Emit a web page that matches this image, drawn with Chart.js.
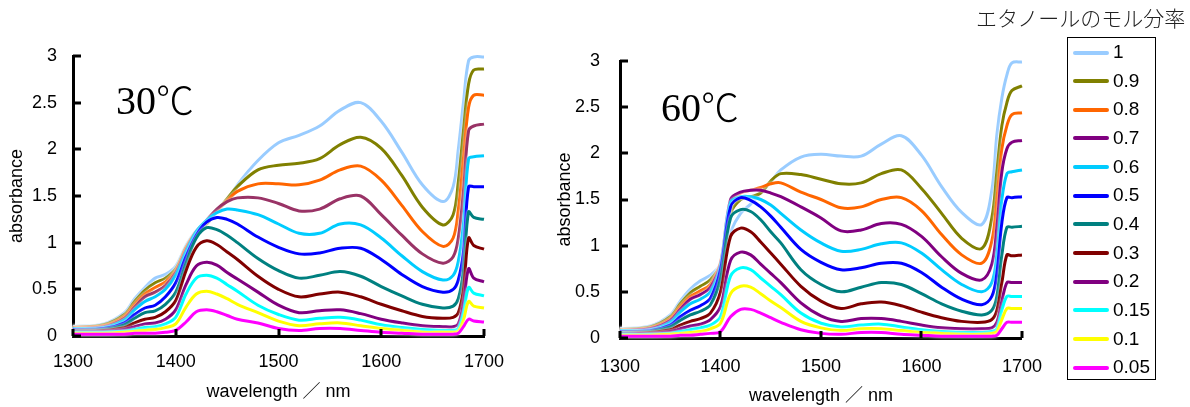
<!DOCTYPE html>
<html lang="ja">
<head>
<meta charset="utf-8">
<title>absorbance 30℃ / 60℃</title>
<script src="https://cdn.jsdelivr.net/npm/chart.js"></script>
<style>
    body { margin: 0; background: #fff; width: 1190px; height: 407px; overflow: hidden; position: relative; font-family: "Liberation Sans", Arial, sans-serif; }
    canvas { position: absolute; top: 0; }
    #c30 { left: 0; }
    #c60 { left: 540px; }
    .temp { position: absolute; font-family: "Liberation Serif", "Noto Sans CJK JP", serif; font-size: 40px; line-height: 40px; color: #000; white-space: nowrap; }
    .temp span { font-family: "Noto Sans CJK JP", sans-serif; font-weight: 300; font-size: 38px; }
    #legendTitle { position: absolute; left: 976px; top: 4px; font-family: "Noto Sans CJK JP", sans-serif; font-weight: 300; font-size: 21px; line-height: 26px; color: #222; white-space: nowrap; }
    #legend { position: absolute; left: 1067px; top: 37px; width: 89px; height: 343px; border: 1px solid #000; box-sizing: border-box; z-index: 2; background: #fff; }
    .row { position: relative; height: 28.66px; }
    .row .ln { position: absolute; left: 5px; top: 12.5px; width: 36px; height: 4px; border-radius: 2px; }
    .row .tx { position: absolute; left: 45px; top: 0; line-height: 28.66px; font-size: 19px; color: #000; }
</style>
</head>
<body>
<canvas id="c30" width="520" height="407"></canvas>
<canvas id="c60" width="520" height="407"></canvas>
<div class="temp" style="left:116px; top:78px;">30<span>℃</span></div>
<div class="temp" style="left:661px; top:85px;">60<span>℃</span></div>
<div id="legendTitle">エタノールのモル分率</div>
<div id="legend"></div>

<script>
    // wavelength grid (nm)
    const wavelengths = [1300, 1330, 1350, 1360, 1370, 1380, 1390, 1400, 1410, 1420, 1430, 1440, 1450, 1460,
        1480, 1500, 1520, 1540, 1560, 1580, 1600, 1620, 1640, 1660, 1670, 1675, 1680, 1685, 1690, 1700];

    // ethanol mole fraction labels
    const fractions = ['1', '0.9', '0.8', '0.7', '0.6', '0.5', '0.4', '0.3', '0.2', '0.15', '0.1', '0.05'];

    const colors30 = ['#99CCFF', '#808000', '#FF6600', '#993366', '#00CCFF', '#0000FF', '#008080', '#800000', '#800080', '#00FFFF', '#FFFF00', '#FF00FF'];
    const colors60 = ['#99CCFF', '#808000', '#FF6600', '#800080', '#00CCFF', '#0000FF', '#008080', '#800000', '#800080', '#00FFFF', '#FFFF00', '#FF00FF'];

    const yTicks = [0, 0.5, 1, 1.5, 2, 2.5, 3];
    const xTicks = [1300, 1400, 1500, 1600, 1700];

    // 30℃
    const a30_100 = [0.10,0.13,0.25,0.40,0.52,0.62,0.66,0.75,0.97,1.13,1.20,1.33,1.45,1.62, 1.88,2.07,2.15,2.25,2.42,2.50,2.30,1.97,1.62,1.44, 1.60,2.00,2.50,2.95,2.99,2.99];
    const a30_090 = [0.09,0.12,0.23,0.37,0.49,0.57,0.62,0.72,0.95,1.12,1.20,1.34,1.47,1.60, 1.78,1.83,1.85,1.90,2.05,2.13,2.01,1.72,1.38,1.19, 1.30,1.65,2.20,2.70,2.85,2.86];
    const a30_080 = [0.09,0.11,0.21,0.34,0.45,0.52,0.58,0.70,0.94,1.12,1.22,1.34,1.45,1.55, 1.63,1.63,1.62,1.67,1.78,1.82,1.67,1.40,1.12,0.96, 1.05,1.35,1.90,2.45,2.58,2.58];
    const a30_070 = [0.08,0.10,0.19,0.31,0.42,0.47,0.54,0.68,0.92,1.12,1.24,1.36,1.44,1.48, 1.48,1.42,1.34,1.36,1.47,1.50,1.30,1.08,0.88,0.78, 0.85,1.05,1.55,2.20,2.25,2.27];
    const a30_060 = [0.08,0.09,0.17,0.28,0.37,0.42,0.50,0.65,0.90,1.12,1.24,1.32,1.36,1.35, 1.30,1.20,1.10,1.10,1.20,1.19,1.05,0.86,0.69,0.60, 0.65,0.80,1.20,1.90,1.92,1.93];
    const a30_050 = [0.07,0.08,0.14,0.23,0.30,0.33,0.42,0.57,0.85,1.08,1.22,1.27,1.25,1.20, 1.06,0.95,0.88,0.89,0.94,0.94,0.82,0.66,0.53,0.47, 0.50,0.60,0.90,1.60,1.60,1.60];
    const a30_040 = [0.06,0.07,0.12,0.19,0.25,0.27,0.34,0.47,0.78,1.05,1.16,1.14,1.08,1.00, 0.83,0.70,0.62,0.65,0.69,0.64,0.53,0.43,0.34,0.30, 0.32,0.40,0.70,1.33,1.27,1.25];
    const a30_030 = [0.05,0.06,0.09,0.14,0.18,0.20,0.26,0.38,0.70,0.95,1.02,0.98,0.90,0.82, 0.64,0.50,0.42,0.45,0.47,0.42,0.34,0.27,0.21,0.19, 0.20,0.25,0.50,1.05,0.97,0.93];
    const a30_020 = [0.05,0.05,0.07,0.10,0.13,0.14,0.18,0.28,0.55,0.75,0.79,0.76,0.68,0.61, 0.47,0.33,0.25,0.27,0.28,0.24,0.18,0.14,0.11,0.10, 0.10,0.13,0.35,0.72,0.62,0.58];
    const a30_015 = [0.04,0.04,0.05,0.07,0.09,0.10,0.13,0.20,0.45,0.62,0.65,0.62,0.55,0.48, 0.33,0.23,0.17,0.19,0.20,0.17,0.12,0.09,0.07,0.06, 0.06,0.08,0.25,0.52,0.46,0.43];
    const a30_010 = [0.03,0.03,0.04,0.05,0.06,0.07,0.09,0.13,0.31,0.45,0.48,0.45,0.40,0.34, 0.25,0.16,0.11,0.13,0.14,0.11,0.08,0.06,0.04,0.04, 0.04,0.05,0.17,0.37,0.32,0.30];
    const a30_005 = [0.02,0.02,0.02,0.03,0.03,0.03,0.04,0.06,0.15,0.26,0.28,0.26,0.22,0.18, 0.14,0.08,0.06,0.08,0.08,0.06,0.04,0.03,0.02,0.02, 0.02,0.03,0.10,0.18,0.16,0.15];

    // 60℃
    const a60_100 = [0.10,0.13,0.25,0.40,0.53,0.62,0.68,0.80,1.15,1.35,1.45,1.57,1.69,1.82, 1.96,1.99,1.97,1.97,2.10,2.19,1.98,1.64,1.36,1.23, 1.60,2.20,2.60,2.85,2.98,2.99];
    const a60_090 = [0.09,0.12,0.23,0.37,0.49,0.56,0.63,0.80,1.35,1.50,1.53,1.57,1.70,1.78, 1.77,1.72,1.67,1.68,1.78,1.82,1.62,1.35,1.08,0.97, 1.30,1.80,2.30,2.55,2.68,2.73];
    const a60_080 = [0.09,0.11,0.21,0.34,0.45,0.51,0.58,0.82,1.45,1.57,1.60,1.63,1.67,1.68, 1.58,1.50,1.41,1.42,1.50,1.52,1.38,1.12,0.90,0.81, 1.05,1.50,2.05,2.30,2.42,2.44];
    const a60_070 = [0.08,0.10,0.19,0.31,0.42,0.47,0.55,0.80,1.50,1.58,1.60,1.60,1.57,1.53, 1.42,1.30,1.16,1.17,1.24,1.23,1.10,0.88,0.70,0.63, 0.80,1.20,1.80,2.05,2.12,2.14];
    const a60_060 = [0.08,0.09,0.17,0.28,0.37,0.42,0.50,0.78,1.47,1.53,1.53,1.50,1.44,1.35, 1.17,1.03,0.94,0.96,1.02,1.03,0.92,0.74,0.58,0.50, 0.60,0.90,1.50,1.78,1.80,1.82];
    const a60_050 = [0.07,0.08,0.14,0.23,0.30,0.35,0.43,0.74,1.42,1.52,1.49,1.42,1.32,1.20, 0.96,0.82,0.74,0.76,0.81,0.81,0.71,0.55,0.42,0.36, 0.45,0.70,1.25,1.52,1.52,1.53];
    const a60_040 = [0.06,0.07,0.12,0.19,0.25,0.29,0.36,0.64,1.30,1.39,1.37,1.28,1.15,1.03, 0.74,0.58,0.50,0.55,0.60,0.58,0.48,0.37,0.29,0.25, 0.30,0.45,0.90,1.20,1.20,1.21];
    const a60_030 = [0.05,0.06,0.09,0.14,0.18,0.21,0.27,0.50,1.10,1.19,1.15,1.04,0.92,0.80, 0.56,0.40,0.32,0.37,0.39,0.35,0.28,0.22,0.18,0.17, 0.20,0.30,0.60,0.90,0.89,0.90];
    const a60_020 = [0.05,0.05,0.07,0.10,0.13,0.15,0.20,0.34,0.84,0.93,0.90,0.80,0.70,0.60, 0.38,0.24,0.18,0.21,0.21,0.18,0.14,0.11,0.10,0.10, 0.11,0.17,0.40,0.60,0.60,0.60];
    const a60_015 = [0.04,0.04,0.05,0.07,0.09,0.11,0.14,0.23,0.67,0.76,0.74,0.65,0.56,0.47, 0.27,0.16,0.12,0.14,0.15,0.12,0.09,0.07,0.06,0.06, 0.07,0.10,0.30,0.45,0.45,0.45];
    const a60_010 = [0.03,0.03,0.04,0.05,0.06,0.07,0.10,0.16,0.48,0.56,0.55,0.48,0.40,0.33, 0.18,0.11,0.08,0.10,0.10,0.08,0.06,0.05,0.04,0.04, 0.05,0.07,0.20,0.32,0.32,0.32];
    const a60_005 = [0.02,0.02,0.02,0.03,0.03,0.04,0.05,0.07,0.23,0.31,0.31,0.27,0.22,0.17, 0.09,0.05,0.04,0.06,0.06,0.04,0.03,0.02,0.02,0.02, 0.02,0.03,0.10,0.17,0.17,0.17];

    const series30 = [a30_100, a30_090, a30_080, a30_070, a30_060, a30_050, a30_040, a30_030, a30_020, a30_015, a30_010, a30_005];
    const series60 = [a60_100, a60_090, a60_080, a60_070, a60_060, a60_050, a60_040, a60_030, a60_020, a60_015, a60_010, a60_005];

    // white glow under each line
    const halo = {
        id: 'halo',
        beforeDatasetDraw(chart) {
            const ctx = chart.ctx;
            ctx.save();
            ctx.shadowColor = 'rgba(255,255,255,0.95)';
            ctx.shadowBlur = 3;
        },
        afterDatasetDraw(chart) {
            chart.ctx.restore();
        }
    };

    // tick marks pointing into the plot area
    const innerTicks = {
        id: 'innerTicks',
        afterDraw(chart) {
            const ctx = chart.ctx;
            const area = chart.chartArea;
            const x = chart.scales.x, y = chart.scales.y;
            ctx.save();
            ctx.strokeStyle = '#000';
            ctx.lineWidth = 3;
            ctx.lineCap = 'butt';
            ctx.beginPath();
            xTicks.forEach(v => {
                const px = Math.round(x.getPixelForValue(v));
                ctx.moveTo(px, area.bottom);
                ctx.lineTo(px, area.bottom - 7);
            });
            yTicks.forEach(v => {
                const py = Math.round(y.getPixelForValue(v));
                ctx.moveTo(area.left, py);
                ctx.lineTo(area.left + 8, py);
            });
            ctx.stroke();
            ctx.restore();
        }
    };

    function makeChart(id, series, colors, box) {
        const datasets = series.map((vals, i) => ({
            label: fractions[i],
            data: wavelengths.map((w, j) => ({ x: w, y: vals[j] })),
            borderColor: colors[i],
            borderWidth: 3,
            pointRadius: 0,
            fill: false,
            tension: 0.35,
            clip: 4,
            order: series.length - 1 - i
        }));

        return new Chart(document.getElementById(id), {
            type: 'line',
            data: { datasets },
            options: {
                responsive: false,
                animation: false,
                events: [],
                layout: { padding: { left: 0, top: box.top, right: box.right, bottom: 0 } },
                plugins: { legend: { display: false }, tooltip: { enabled: false } },
                scales: {
                    x: {
                        type: 'linear',
                        min: 1300,
                        max: 1700,
                        afterBuildTicks: s => { s.ticks = xTicks.map(v => ({ value: v })); },
                        afterFit: s => { s.height = box.xHeight; },
                        grid: { display: false, drawTicks: false },
                        border: { display: true, color: '#000', width: 3 },
                        ticks: {
                            color: '#000', padding: box.xPad,
                            font: { family: 'Liberation Sans', size: 18 },
                            callback: v => String(v)
                        },
                        title: {
                            display: true, text: 'wavelength ／ nm', color: '#000',
                            padding: { top: 0, bottom: box.xTitlePad },
                            font: { family: "'Liberation Sans', 'Noto Sans CJK JP'", size: 18 }
                        }
                    },
                    y: {
                        min: 0,
                        max: 3,
                        afterBuildTicks: s => { s.ticks = yTicks.map(v => ({ value: v })); },
                        afterFit: s => { s.width = box.yWidth; },
                        grid: { display: false, drawTicks: false },
                        border: { display: true, color: '#000', width: 3 },
                        ticks: {
                            color: '#000', padding: box.yPad,
                            font: { family: 'Liberation Sans', size: 18 },
                            callback: v => String(v)
                        },
                        title: {
                            display: true, text: 'absorbance', color: '#000',
                            padding: { top: box.yTitlePad, bottom: 0 },
                            font: { family: 'Liberation Sans', size: 18 }
                        }
                    }
                }
            },
            plugins: [halo, innerTicks]
        });
    }

    makeChart('c30', series30, colors30, { top: 56, right: 36, xHeight: 71, yWidth: 73, xPad: 15, yPad: 16, xTitlePad: 4, yTitlePad: 6 });
    makeChart('c60', series60, colors60, { top: 61, right: 36, xHeight: 69, yWidth: 80, xPad: 18, yPad: 20, xTitlePad: 0, yTitlePad: 14 });

    // legend box
    const legend = document.getElementById('legend');
    fractions.forEach((f, i) => {
        const row = document.createElement('div');
        row.className = 'row';
        row.innerHTML = '<span class="ln" style="background:' + colors60[i] + '"></span><span class="tx">' + f + '</span>';
        legend.appendChild(row);
    });
</script>
</body>
</html>
